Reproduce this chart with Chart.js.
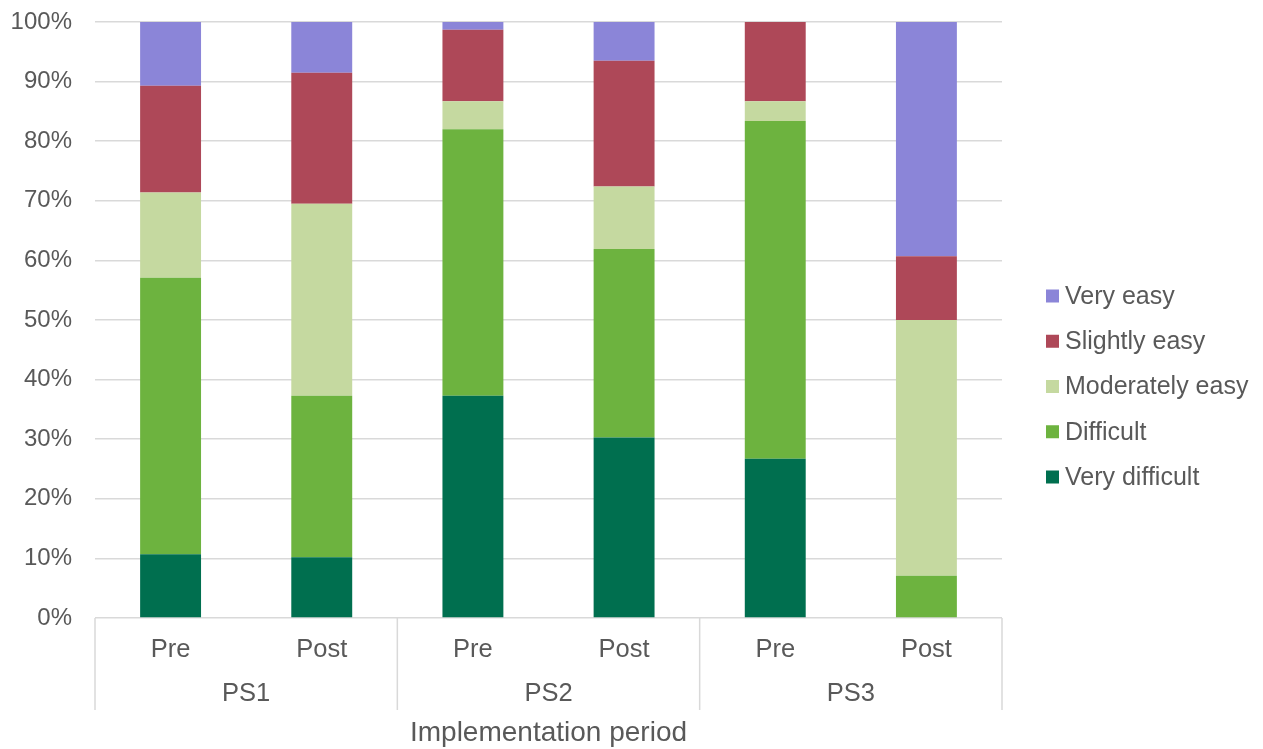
<!DOCTYPE html>
<html>
<head>
<meta charset="utf-8">
<title>Implementation period</title>
<script src="https://cdn.jsdelivr.net/npm/chart.js@4.4.1/dist/chart.umd.min.js"></script>
<style>
  html, body { margin: 0; padding: 0; background: #ffffff; }
  #wrap { width: 1263px; height: 749px; }
</style>
</head>
<body>
<div id="wrap"><canvas id="c" width="1263" height="749"></canvas></div>
<script>
// Categories: period within each programme stage
const periods = ['Pre', 'Post', 'Pre', 'Post', 'Pre', 'Post'];
const groups = ['PS1', 'PS2', 'PS3'];
const groupOf = [0, 0, 1, 1, 2, 2];

// Share of responses (%) per rating, bottom to top of each stack
const veryDifficult  = [10.7, 10.2, 37.3, 30.3, 26.7, 0];
const difficult      = [46.4, 27.1, 44.7, 31.6, 56.7, 7.1];
const moderatelyEasy = [14.3, 32.2, 4.7, 10.5, 3.3, 42.9];
const slightlyEasy   = [17.9, 22.0, 12.0, 21.1, 13.3, 10.7];
const veryEasy       = [10.7, 8.5, 1.3, 6.5, 0, 39.3];

const seriesNames = ['Very difficult', 'Difficult', 'Moderately easy', 'Slightly easy', 'Very easy'];
const seriesColors = ['#006f4f', '#6db33f', '#c5d9a0', '#ae4858', '#8b85d8'];
const seriesValues = [veryDifficult, difficult, moderatelyEasy, slightlyEasy, veryEasy];

const yMin = 0, yMax = 100, yStep = 10;
const axisTitle = 'Implementation period';

const FONT = '"Liberation Sans", Arial, Helvetica, sans-serif';
const TEXT = '#595959';
const LINE = '#d9d9d9';

// Second category level (PS1..PS3), its separators, and the legend
const groupAxis = {
  id: 'groupAxis',
  afterDraw(chart) {
    const { ctx, chartArea, scales: { x } } = chart;
    ctx.save();

    // boundaries between groups
    const edges = [chartArea.left];
    for (let i = 0; i < periods.length - 1; i++) {
      if (groupOf[i] !== groupOf[i + 1]) {
        edges.push((x.getPixelForValue(i) + x.getPixelForValue(i + 1)) / 2);
      }
    }
    edges.push(chartArea.right);
    ctx.strokeStyle = LINE;
    ctx.lineWidth = 1.5;
    edges.forEach(px => {
      ctx.beginPath();
      ctx.moveTo(px, chartArea.bottom);
      ctx.lineTo(px, chartArea.bottom + 92);
      ctx.stroke();
    });

    // group labels centred under their categories
    ctx.fillStyle = TEXT;
    ctx.font = '25.5px ' + FONT;
    ctx.textAlign = 'center';
    ctx.textBaseline = 'middle';
    groups.forEach((g, gi) => {
      const idx = groupOf.map((v, i) => v === gi ? i : -1).filter(i => i >= 0);
      const cx = idx.reduce((s, i) => s + x.getPixelForValue(i), 0) / idx.length;
      ctx.fillText(g, cx, chartArea.bottom + 76);
    });

    // legend, top item = last series
    ctx.font = '25px ' + FONT;
    ctx.textAlign = 'left';
    const lx = chartArea.right + 44;
    const top = 296;
    const gap = 45.25;
    const order = chart.data.datasets.map((d, i) => i).reverse();
    order.forEach((di, k) => {
      const ds = chart.data.datasets[di];
      const cy = top + k * gap;
      ctx.fillStyle = ds.backgroundColor;
      ctx.fillRect(lx, cy - 6.5, 13, 13);
      ctx.fillStyle = TEXT;
      ctx.fillText(ds.label, lx + 19, cy + 1);
    });
    ctx.restore();
  }
};

new Chart(document.getElementById('c'), {
  type: 'bar',
  data: {
    labels: periods,
    datasets: seriesValues.map((vals, i) => ({
      label: seriesNames[i],
      data: vals,
      backgroundColor: seriesColors[i],
      borderWidth: 0,
      barPercentage: 0.403,
      categoryPercentage: 1.0
    }))
  },
  options: {
    responsive: false,
    animation: false,
    devicePixelRatio: 1,
    layout: { padding: { top: 22, right: 261, left: 0, bottom: 0 } },
    plugins: {
      legend: { display: false },
      tooltip: { enabled: false }
    },
    scales: {
      x: {
        stacked: true,
        grid: { display: false },
        border: { display: false },
        ticks: {
          color: TEXT,
          font: { family: FONT, size: 25.5 },
          padding: 9,
          maxRotation: 0,
          autoSkip: false
        },
        title: {
          display: true,
          text: axisTitle,
          color: TEXT,
          font: { family: FONT, size: 28, lineHeight: 1.1 },
          padding: { top: 0, bottom: 0 }
        },
        afterFit(scale) { scale.height = 131; }
      },
      y: {
        stacked: true,
        min: yMin,
        max: yMax,
        grid: { color: LINE, lineWidth: 1.5, drawTicks: false },
        border: { display: false },
        ticks: {
          stepSize: yStep,
          color: TEXT,
          font: { family: FONT, size: 24 },
          padding: 23,
          callback: v => v + '%'
        },
        afterFit(scale) {
          scale.width = 95;
          scale.paddingTop = 0;
          scale.paddingBottom = 0;
        }
      }
    }
  },
  plugins: [groupAxis]
});
</script>
</body>
</html>
